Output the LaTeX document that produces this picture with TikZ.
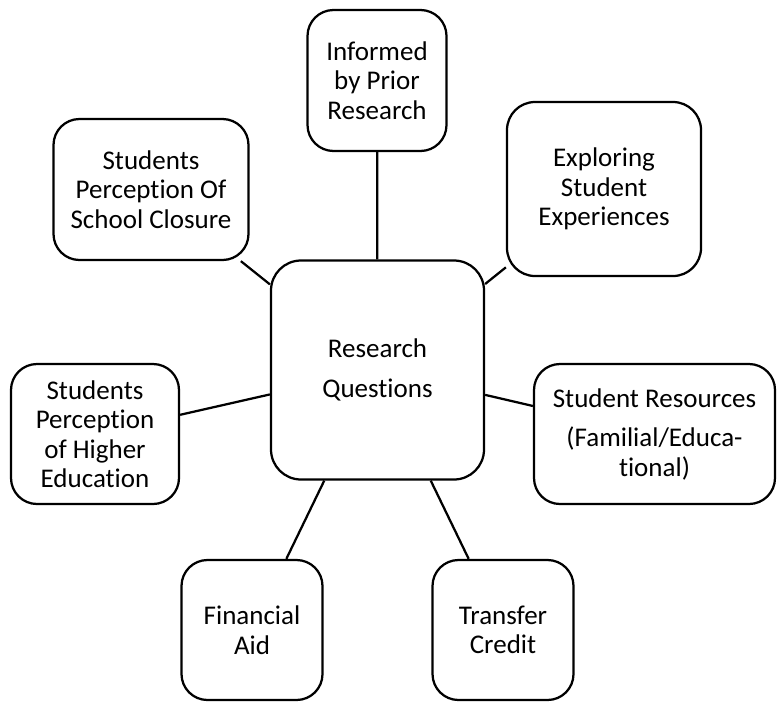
\documentclass[tikz,border=0pt]{standalone}
\usepackage{fontspec}
\setmainfont{Carlito}[Ligatures=NoCommon]

\tikzset{
    box/.style={draw, fill=white, line width=2.25pt, rounded corners=26pt,
        align=center, inner sep=0pt, font=\fontsize{27}{29.5}\selectfont},
    link/.style={line width=2.25pt},
}

\begin{document}
\begin{tikzpicture}[x=1pt, y=-1pt]
        \useasboundingbox (0, 0) rectangle (778, 702);

        % Nodes
        \node[box, rounded corners=30pt, minimum width=213pt, minimum height=219pt] (Questions) at (377.5, 370) {Research\\[10.5pt] Questions};
        \node[box, minimum width=139pt, minimum height=141pt] (Prior) at (377, 80.5) {Informed\\ by Prior\\ Research};
        \node[box, minimum width=195pt, minimum height=141pt] (Closure) at (151, 189.5) {Students\\ Perception Of\\ School Closure};
        \node[box, rounded corners=28pt, minimum width=194pt, minimum height=174pt] (Experiences) at (604, 189) {Exploring\\ Student\\ Experiences};
        \node[box, minimum width=168pt, minimum height=140pt] (HigherEd) at (95, 434) {Students\\ Perception\\ of Higher\\ Education};
        \node[box, minimum width=241pt, minimum height=140pt] (Resources) at (654.5, 434) {Student Resources\\[10pt] (Familial/Educa-\\ tional)};
        \node[box, minimum width=141pt, minimum height=140pt] (Aid) at (252, 630) {Financial\\ Aid};
        \node[box, minimum width=141pt, minimum height=140pt] (Credit) at (503, 630) {Transfer\\ Credit};

        % Lines
        \draw[link] (Questions) -- (Prior);
        \draw[link] (Questions) -- (Closure);
        \draw[link] (Questions) -- (Experiences);
        \draw[link] (Questions) -- (HigherEd);
        \draw[link] (Questions) -- (Resources);
        \draw[link] (Questions) -- (Aid);
        \draw[link] (Questions) -- (Credit);
    \end{tikzpicture}
\end{document}
